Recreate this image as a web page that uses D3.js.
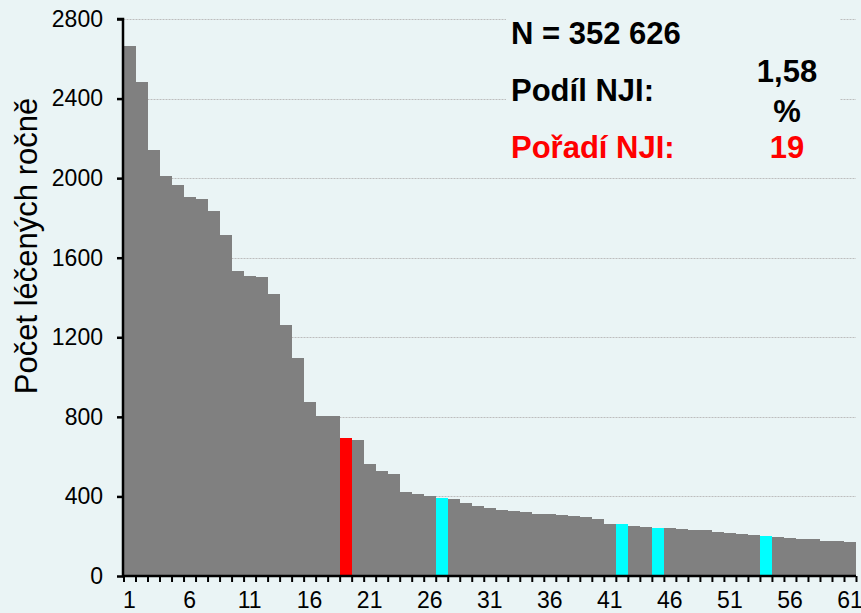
<!DOCTYPE html>
<html>
<head>
<meta charset="utf-8">
<script src="https://cdn.jsdelivr.net/npm/d3@7"></script>
<style>
  html, body { margin: 0; padding: 0; background: #EAF4F5; }
  svg { display: block; font-family: "Liberation Sans", Arial, sans-serif; }
</style>
</head>
<body>
<svg id="chart" width="861" height="613"></svg>
<script>
const categories = d3.range(1, 62);
const values = [
  2665, 2485, 2141, 2012, 1966, 1905, 1894, 1833, 1714, 1532,
  1507, 1503, 1419, 1262, 1098, 876, 803, 803, 694, 682,
  561, 528, 511, 422, 412, 400, 392, 387, 365, 350,
  340, 330, 328, 322, 312, 310, 306, 302, 297, 287,
  263, 261, 251, 245, 241, 240, 235, 230, 230, 221,
  218, 211, 206, 200, 194, 191, 188, 184, 178, 174,
  171
];
const highlightRed = [19];
const highlightCyan = [27, 42, 45, 54];
const yTicks = [0, 400, 800, 1200, 1600, 2000, 2400, 2800];
const xLabels = [1, 6, 11, 16, 21, 26, 31, 36, 41, 46, 51, 56, 61];
const yTitle = "Počet léčených ročně";
const infoN = "N = 352 626";
const infoShareLabel = "Podíl NJI:";
const infoShareValue = ["1,58", "%"];
const infoRankLabel = "Pořadí NJI:";
const infoRankValue = "19";

const svg = d3.select("#chart");
const bg = "#EAF4F5";
const mLeft = 123.5, mRight = 856, mTop = 19, mBottom = 576;

const x = d3.scaleBand().domain(categories).range([mLeft, mRight]).paddingInner(0).paddingOuter(0);
const xLin = d3.scaleLinear().domain([0.5, 61.5]).range([mLeft, mRight]);
const y = d3.scaleLinear().domain([0, 2800]).range([mBottom, mTop]);

// gridlines
svg.append("g").selectAll("line")
  .data(yTicks.filter(d => d > 0))
  .join("line")
  .attr("x1", mLeft).attr("x2", mRight)
  .attr("y1", d => Math.round(y(d)) + 0.5).attr("y2", d => Math.round(y(d)) + 0.5)
  .attr("stroke", "#bdbdbd").attr("stroke-width", 1)
  .attr("stroke-dasharray", "2,1");

// info box background hides gridlines
svg.append("rect").attr("x", 506).attr("y", 4).attr("width", 334).attr("height", 166).attr("fill", bg);

// bars
const data = categories.map((c, i) => ({c, v: values[i]}));
svg.append("g").selectAll("rect")
  .data(data)
  .join("rect")
  .attr("x", d => x(d.c))
  .attr("width", x.bandwidth())
  .attr("y", d => y(d.v))
  .attr("height", d => y(0) - y(d.v))
  .attr("fill", d => highlightRed.includes(d.c) ? "#FF0000" : highlightCyan.includes(d.c) ? "#00FFFF" : "#808080")
  .attr("shape-rendering", "crispEdges");

// y axis
const yAxis = svg.append("g")
  .attr("transform", `translate(${mLeft - 0.5},0)`)
  .call(d3.axisLeft(y).tickValues(yTicks).tickSize(6).tickPadding(14).tickFormat(d3.format("d")));
yAxis.select(".domain").attr("stroke", "#000").attr("stroke-width", 2.5).attr("d", `M-6,${mTop}H0V${mBottom}`);
yAxis.selectAll(".tick line").attr("stroke", "#000").attr("stroke-width", 2.5);
yAxis.selectAll(".tick text").attr("font-size", 23).attr("fill", "#000").attr("font-family", "Liberation Sans, Arial, sans-serif");

// x axis ticks at bar boundaries
const xAxis = svg.append("g")
  .attr("transform", `translate(0,${mBottom})`)
  .call(d3.axisBottom(xLin).tickValues(d3.range(0.5, 62, 1)).tickSize(6).tickFormat(""));
xAxis.select(".domain").attr("stroke", "#000").attr("stroke-width", 2.5).attr("d", `M${mLeft - 1.5},0H${mRight}`);
xAxis.selectAll(".tick line").attr("stroke", "#000").attr("stroke-width", 2);

// x labels
const xLab = svg.append("g")
  .attr("transform", `translate(0,${mBottom})`)
  .call(d3.axisBottom(x).tickValues(xLabels).tickSize(0).tickPadding(16));
xLab.select(".domain").remove();
xLab.selectAll(".tick text").attr("font-size", 23).attr("fill", "#000").attr("font-family", "Liberation Sans, Arial, sans-serif");

// y title
svg.append("text")
  .attr("transform", "translate(37,246) rotate(-90)")
  .attr("text-anchor", "middle")
  .attr("font-size", 31)
  .attr("fill", "#000")
  .text(yTitle);

// info text
const info = svg.append("g").attr("font-weight", "bold").attr("font-size", 31);
info.append("text").attr("x", 511).attr("y", 44).attr("fill", "#000").text(infoN);
info.append("text").attr("x", 511).attr("y", 101).attr("fill", "#000").text(infoShareLabel);
info.append("text").attr("x", 787).attr("y", 82).attr("text-anchor", "middle").attr("fill", "#000").text(infoShareValue[0]);
info.append("text").attr("x", 787).attr("y", 122).attr("text-anchor", "middle").attr("fill", "#000").text(infoShareValue[1]);
info.append("text").attr("x", 511).attr("y", 158).attr("fill", "#FF0000").text(infoRankLabel);
info.append("text").attr("x", 787).attr("y", 158).attr("text-anchor", "middle").attr("fill", "#FF0000").text(infoRankValue);
</script>
</body>
</html>
